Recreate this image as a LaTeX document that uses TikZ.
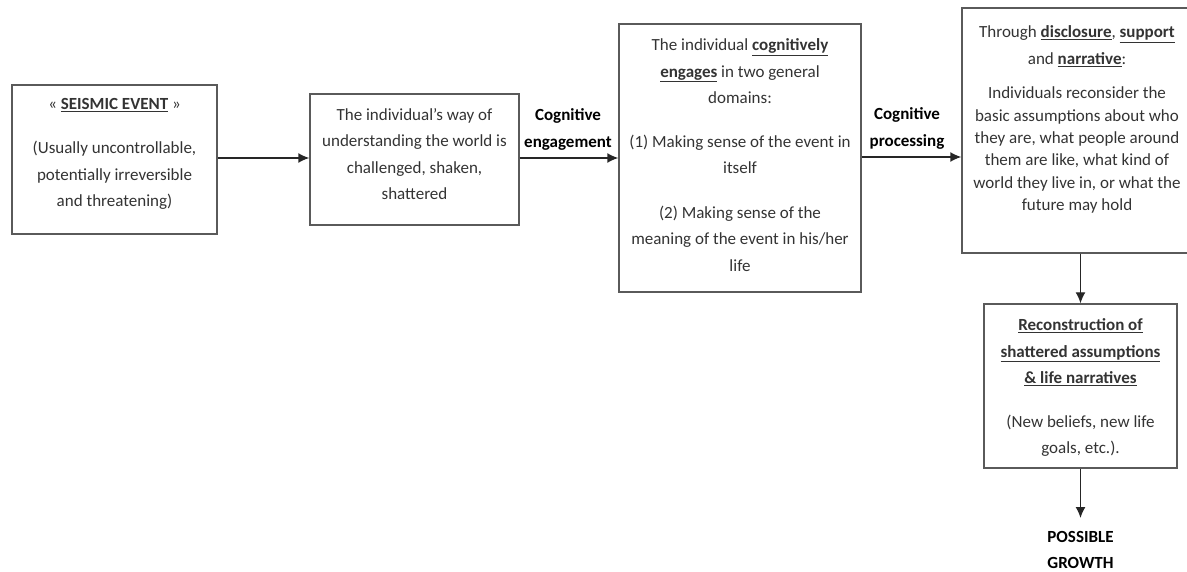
\documentclass[tikz,border=0pt]{standalone}
\usepackage{fontspec}
\setmainfont{Carlito}
\usetikzlibrary{arrows.meta}
\definecolor{boxline}{HTML}{5A5A5A}
\definecolor{bodytext}{HTML}{333333}
\tikzset{
  frame/.style={draw=boxline, line width=1.4pt, inner sep=0pt},
  txt/.style={align=center, text=bodytext, inner sep=0pt,
    font=\fontsize{17}{26.5}\selectfont},
  lbl/.style={align=center, text=black, inner sep=0pt,
    font=\bfseries\fontsize{17}{26.5}\selectfont},
  flow/.style={draw=black!85, line width=1.4pt, -{Latex[length=11pt,width=10pt]}}
}
\newcommand{\ul}[1]{\underline{#1}}
\begin{document}
\begin{tikzpicture}[x=1pt,y=-1pt]
\useasboundingbox (0,0) rectangle (1187,572);

% boxes
\node[frame, minimum width=205pt, minimum height=149pt] (b1) at (114.5,159.5) {};
\node[frame, minimum width=209pt, minimum height=131pt] (b2) at (414.5,159.5) {};
\node[frame, minimum width=242pt, minimum height=268pt] (b3) at (740,158) {};
\node[frame, minimum width=227pt, minimum height=245pt] (b4) at (1075.5,130.5) {};
\node[frame, minimum width=193pt, minimum height=164pt] (b5) at (1080.5,386) {};

% box contents
\node[txt] (t1) at (114.5,154) {«~\textbf{\ul{SEISMIC EVENT}}~»\\[18pt]
  (Usually uncontrollable,\\ potentially irreversible\\ and threatening)};
\node[txt] (t2) at (414.5,154) {The individual’s way of\\ understanding the world is\\
  challenged, shaken,\\ shattered};
\node[txt] (t3) at (740,155) {The individual \textbf{\ul{cognitively}}\\
  \textbf{\ul{engages}} in two general\\ domains:\\[17pt]
  (1) Making sense of the event in\\ itself\\[18pt]
  (2) Making sense of the\\ meaning of the event in his/her\\ life};
\node[txt] (t4) at (1077,119.5) {Through \textbf{\ul{disclosure}}, \textbf{\ul{support}}\\
  and \textbf{\ul{narrative}}:\\[8pt]
  Individuals reconsider the\\[-4.2pt] basic assumptions about who\\[-4.2pt]
  they are, what people around\\[-4.2pt] them are like, what kind of\\[-4.2pt]
  world they live in, or what the\\[-4.2pt] future may hold};
\node[txt] (t5) at (1080.5,387.5) {\textbf{\ul{Reconstruction of}}\\
  \textbf{\ul{shattered assumptions}}\\ \textbf{\ul{\& life narratives}}\\[17pt]
  (New beliefs, new life\\ goals, etc.).};

% arrow labels and outcome
\node[lbl] (l1) at (568,129.5) {Cognitive\\ engagement};
\node[lbl] (l2) at (907,128.5) {Cognitive\\ processing};
\node[lbl] (g) at (1080.5,550) {POSSIBLE\\ GROWTH};
\coordinate (gtop) at (1080.5,518);

% connectors
\draw[flow] (b1.east |- 0,158) -- (b2.west |- 0,158);
\draw[flow] (b2.east |- 0,158) -- (b3.west |- 0,158);
\draw[flow] (b3.east |- 0,157) -- (b4.west |- 0,157);
\draw[flow] (b5.north |- b4.south) -- (b5.north);
\draw[flow] (b5.south) -- (gtop);
\end{tikzpicture}
\end{document}
